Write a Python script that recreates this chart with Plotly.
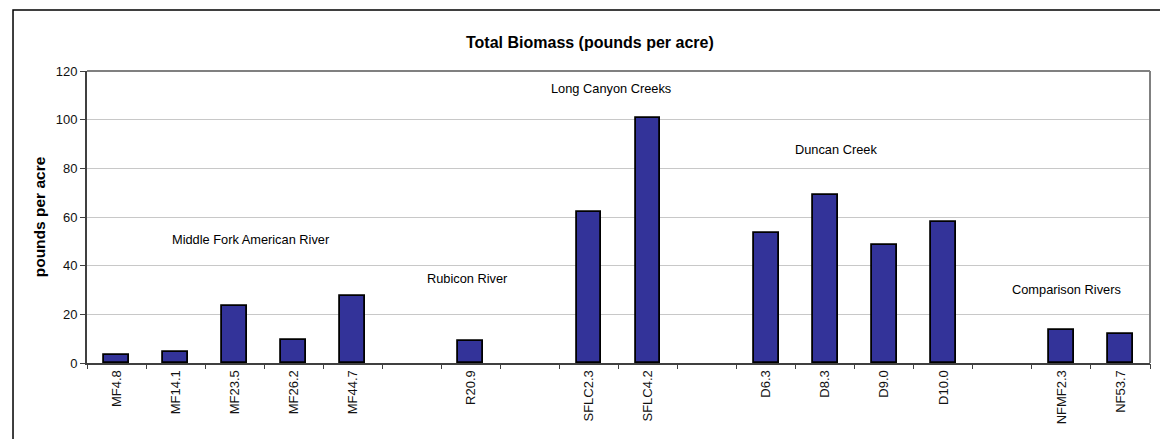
import plotly.graph_objects as go

# Category slots (None = empty gap between groups)
categories = ["MF4.8", "MF14.1", "MF23.5", "MF26.2", "MF44.7", None,
              "R20.9", None,
              "SFLC2.3", "SFLC4.2", None,
              "D6.3", "D8.3", "D9.0", "D10.0", None,
              "NFMF2.3", "NF53.7"]
biomass = [3.1, 4.4, 23.3, 9.6, 27.7, None,
           8.9, None,
           61.9, 100.8, None,
           53.6, 68.9, 48.6, 58.1, None,
           13.4, 11.8]

group_labels = ["Middle Fork American River", "Rubicon River", "Long Canyon Creeks",
                "Duncan Creek", "Comparison Rivers"]

y_ticks = [0, 20, 40, 60, 80, 100, 120]

FONT = "Liberation Sans, Arial, sans-serif"

xs = [i for i, c in enumerate(categories) if c is not None]
ys = [biomass[i] for i in xs]
labels = [categories[i] for i in xs]
n = len(categories)

fig = go.Figure()
fig.add_trace(go.Bar(
    x=xs, y=ys, width=0.42,
    marker=dict(color="#333399", line=dict(color="#000000", width=1.8)),
    hoverinfo="skip", showlegend=False,
))
# invisible trace to activate xaxis2 (boundary tick marks)
fig.add_trace(go.Scatter(x=[-0.5, n - 0.5], y=[None, None], xaxis="x2",
                         mode="markers", showlegend=False, hoverinfo="skip"))

fig.update_layout(
    width=1160, height=439,
    margin=dict(l=87, r=10, t=71, b=76),
    paper_bgcolor="white", plot_bgcolor="white",
    font=dict(family=FONT, color="#000000"),
    bargap=0,
    xaxis=dict(
        range=[-0.5, n - 0.5],
        tickmode="array", tickvals=xs, ticktext=labels,
        tickangle=-90, ticks="", ticklen=0,
        tickfont=dict(size=13, family=FONT, color="#111111"),
        showgrid=False, zeroline=False,
        showline=True, linecolor="#404040", linewidth=2,
        fixedrange=True,
    ),
    xaxis2=dict(
        overlaying="x", side="bottom",
        range=[-0.5, n - 0.5],
        tickmode="array", tickvals=[i - 0.5 for i in range(n + 1)],
        showticklabels=False, ticks="outside", ticklen=5, tickwidth=1,
        tickcolor="#404040", showgrid=False, zeroline=False, showline=False,
    ),
    yaxis=dict(
        range=[0, 120], tickmode="array", tickvals=y_ticks,
        ticks="outside", ticklen=5, tickcolor="#404040", tickwidth=1,
        tickfont=dict(size=13, family=FONT, color="#111111"),
        showgrid=True, gridcolor="#c8c8c8", gridwidth=1,
        zeroline=False, showline=True, linecolor="#404040", linewidth=2,
        title=dict(text="<b>pounds per acre</b>", font=dict(size=15.5, family=FONT),
                   standoff=6),
    ),
    shapes=[
        # outer chart border
        dict(type="rect", xref="paper", yref="paper",
             x0=-0.0696, x1=1.02, y0=-0.3, y1=1.2087,
             line=dict(color="#000000", width=1.5), layer="below"),
        # plot-area border (top/right)
        dict(type="line", xref="paper", yref="paper", x0=0, x1=1, y0=1, y1=1,
             line=dict(color="#808080", width=2), layer="above"),
        dict(type="line", xref="paper", yref="paper", x0=1, x1=1, y0=0, y1=1,
             line=dict(color="#808080", width=2), layer="above"),
    ],
)

ann_font = dict(size=12.8, family=FONT, color="#000000")
fig.add_annotation(text="<b>Total Biomass (pounds per acre)</b>", xref="paper", yref="paper",
                   x=(590 - 87) / 1063, y=(363.3 - 42) / 292.3, showarrow=False,
                   xanchor="center", yanchor="middle",
                   font=dict(size=16, family=FONT, color="#000000"))
# group labels: (x px, y px, anchor)
group_pos = [(170, 240, "left"), (425, 279, "left"), (611, 89, "center"),
             (793, 150, "left"), (1010, 290, "left")]
for text, (px, py, anc) in zip(group_labels, group_pos):
    fig.add_annotation(text=text, xref="paper", yref="paper",
                       x=(px - 87) / 1063, y=(363.3 - py) / 292.3,
                       xanchor=anc, yanchor="middle", showarrow=False, font=ann_font)

fig.write_html("out.html", config={"displayModeBar": False},
               post_script="document.body.style.margin='0';document.body.style.overflow='hidden';")
